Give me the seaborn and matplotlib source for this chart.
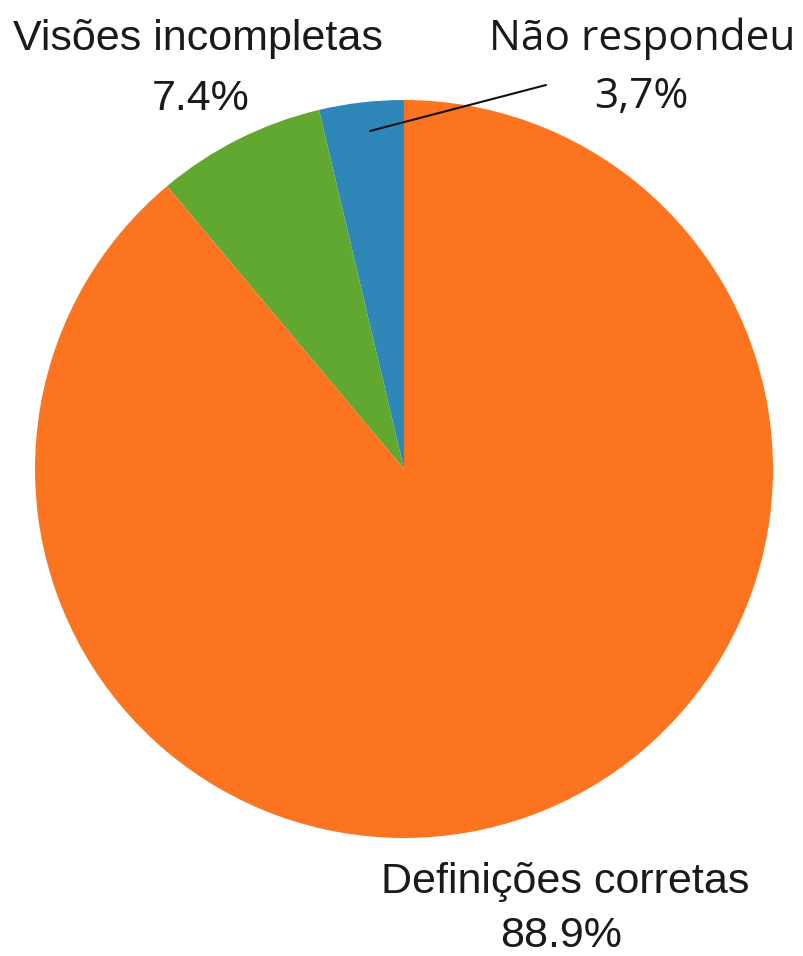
import matplotlib
matplotlib.use("Agg")
import matplotlib.pyplot as plt
import seaborn as sns

sns.set_theme(style="white")
plt.rcParams['font.family'] = ['Liberation Sans', 'DejaVu Sans']

categories = ["Não respondeu", "Visões incompletas", "Definições corretas"]
values = [3.7, 7.4, 88.9]
pct_labels = ["3,7%", "7.4%", "88.9%"]
colors = ["#2e87b8", "#60a830", "#fd7420"]

W, H = 804, 956
fig = plt.figure(figsize=(W / 100, H / 100), dpi=100)
cx, cy, r = 404, 469, 369
ax = fig.add_axes([(cx - r) / W, (H - cy - r) / H, 2 * r / W, 2 * r / H])
ax.pie(values, colors=colors, startangle=90, counterclock=True, radius=1,
       wedgeprops=dict(linewidth=0))
ax.set_xlim(-1, 1)
ax.set_ylim(-1, 1)
ax.set_aspect("equal")
ax.axis("off")


def px(x, y):
    return (x - cx) / r, (cy - y) / r


def label(x, y, s, family, size):
    tx, ty = px(x, y)
    ax.text(tx, ty, s, ha="center", va="baseline", fontsize=size,
            family=family, color="#1a1a1a", clip_on=False)


# Não respondeu (Open Sans-like)
label(642, 50, categories[0], ["Open Sans", "DejaVu Sans"], 30.5)
label(641, 108, pct_labels[0], ["Open Sans", "DejaVu Sans"], 30.5)
# Visões incompletas
label(198, 50, categories[1], ["Liberation Sans", "DejaVu Sans"], 31)
label(201, 110, pct_labels[1], ["Liberation Sans", "DejaVu Sans"], 31)
# Definições corretas
label(565, 893, categories[2], ["Liberation Sans", "DejaVu Sans"], 31)
label(561, 947, pct_labels[2], ["Liberation Sans", "DejaVu Sans"], 31)

x0, y0 = px(370, 131)
x1, y1 = px(546, 85)
ax.plot([x0, x1], [y0, y1], color="#111111", linewidth=1.5, clip_on=False)

fig.savefig("out.png", dpi=100)
